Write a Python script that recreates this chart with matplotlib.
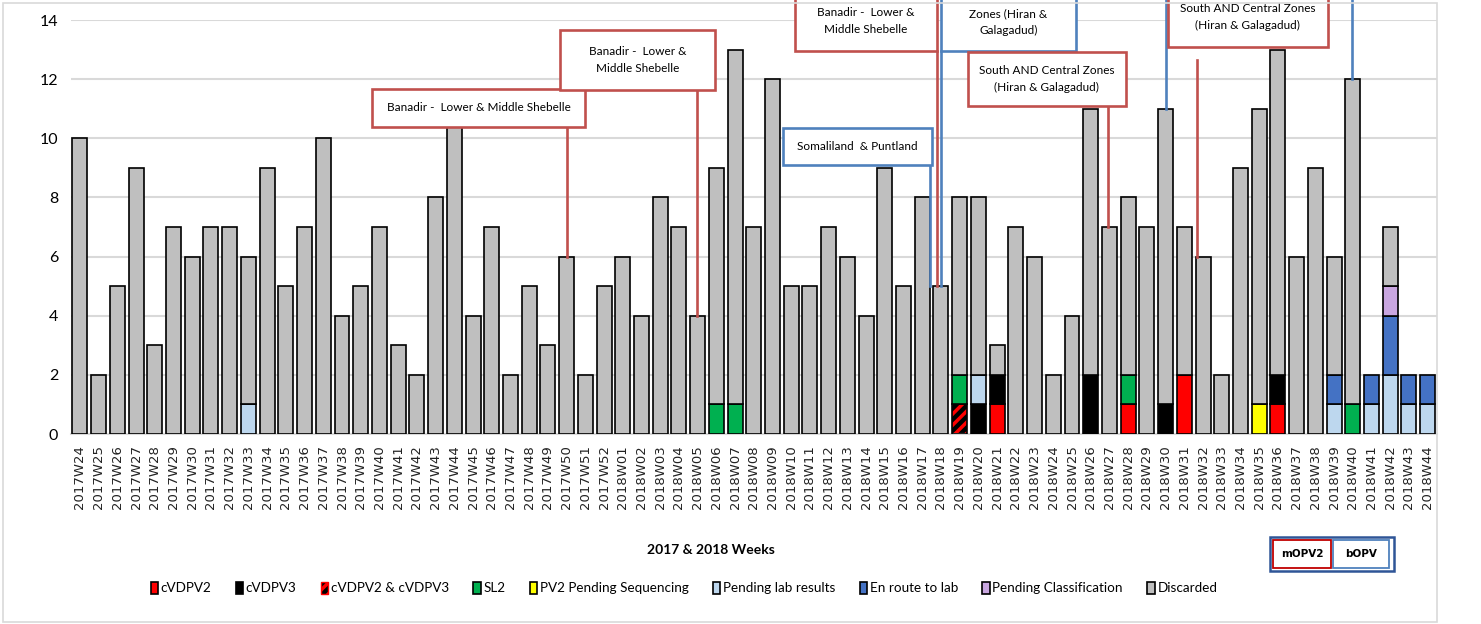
"""
Polio lab samples by epi week, 2017W24 - 2018W44 (stacked by classification)
"""

import numpy as np
import matplotlib
matplotlib.use("Agg")
import matplotlib.pyplot as plt
from matplotlib.patches import Patch, Rectangle

# -----------------------------------------------------------------------
# Data
# -----------------------------------------------------------------------

weeks = [f"2017W{w}" for w in range(24, 53)] + [f"2018W{w:02d}" for w in range(1, 45)]

discarded = [10, 2, 5, 9, 3, 7, 6, 7, 7, 5, 9, 5, 7, 10, 4, 5, 7, 3, 2, 8,
             11, 4, 7, 2, 5, 3, 6, 2, 5,
             6, 4, 8, 7, 4, 8, 12, 7, 12, 5, 5, 7, 6, 4, 9, 5, 8, 5, 6, 6,
             1, 7, 6, 2, 4, 9, 7, 6, 7, 10, 5, 6, 2, 9, 10, 11, 6, 9, 4, 11,
             0, 2, 0, 0]

cvdpv2 = {"2018W21": 1, "2018W28": 1, "2018W31": 2, "2018W36": 1}
cvdpv3 = {"2018W20": 1, "2018W21": 1, "2018W26": 2, "2018W30": 1, "2018W36": 1}
cvdpv2_3 = {"2018W19": 1}
sl2 = {"2018W06": 1, "2018W07": 1, "2018W19": 1, "2018W28": 1, "2018W40": 1}
pv2_pending = {"2018W35": 1}
pending_lab = {"2017W33": 1, "2018W20": 1, "2018W39": 1, "2018W41": 1,
               "2018W42": 2, "2018W43": 1, "2018W44": 1}
en_route = {"2018W39": 1, "2018W41": 1, "2018W42": 2, "2018W43": 1, "2018W44": 1}
pending_class = {"2018W42": 1}

labels = ["cVDPV2", "cVDPV3", "cVDPV2 & cVDPV3", "SL2", "PV2 Pending Sequencing",
          "Pending lab results", "En route to lab", "Pending Classification", "Discarded"]
colors = ["#FF0000", "#000000", "#000000", "#00B050", "#FFFF00",
          "#BDD7EE", "#4472C4", "#C9A6E0", "#BFBFBF"]

# annotation boxes (text, colour, box in data coords x0, x1, y0, y1)
ann_text = [
    "Banadir -  Lower & Middle Shebelle",
    "Banadir -  Lower &\nMiddle Shebelle",
    "Banadir -  Lower &\nMiddle Shebelle",
    "Zones (Hiran &\nGalagadud)",   # top line of this box is off the page
    "Somaliland  & Puntland",
    "South AND Central Zones\n(Hiran & Galagadud)",
    "South AND Central Zones\n(Hiran & Galagadud)",
]
ann_color = ["#C0504D", "#C0504D", "#C0504D", "#4F81BD", "#4F81BD", "#C0504D", "#C0504D"]
ann_box = [
    (15.6, 26.98, 10.38, 11.67),
    (25.64, 33.92, 11.63, 13.66),
    (38.19, 45.78, 12.95, 14.98),
    (46.0, 53.2, 12.95, 15.62),
    (37.55, 45.51, 9.10, 10.35),
    (47.44, 55.88, 11.09, 12.92),
    (58.12, 66.67, 13.09, 15.12),
]
# text centre height (None -> middle of box)
ann_ty = [None, None, None, 13.93, None, None, None]
# connectors: week, x offset, start height, colour
conn_week = ["2017W50", "2018W05", "2018W18", "2018W18", "2018W18",
             "2018W27", "2018W32", "2018W30", "2018W40"]
conn_dx = [0.0, -0.05, -0.22, 0.0, -0.6, -0.1, -0.33, 0.0, -0.05]
conn_y0 = [10.38, 11.63, 12.95, 12.95, 9.10, 11.09, 12.65, 16.0, 16.0]
conn_color = ["#C0504D", "#C0504D", "#C0504D", "#4F81BD", "#4F81BD",
              "#C0504D", "#C0504D", "#4F81BD", "#4F81BD"]

# -----------------------------------------------------------------------
# Plot
# -----------------------------------------------------------------------

W, H = 1481, 624
plt.rcParams["hatch.linewidth"] = 2.5
fig = plt.figure(figsize=(W / 100, H / 100), dpi=100)
ax = fig.add_axes([70.6 / W, 1 - 434 / H, (1437 - 70.6) / W, (434 - 20) / H])


def px(x):
    return x / W


def py(y):
    return 1 - y / H


x = np.arange(len(weeks))
series = [cvdpv2, cvdpv3, cvdpv2_3, sl2, pv2_pending, pending_lab, en_route, pending_class]
stack = [np.array([s.get(w, 0) for w in weeks], dtype=float) for s in series]
stack.append(np.array(discarded, dtype=float))

bottom = np.zeros(len(weeks))
for i, vals in enumerate(stack):
    m = vals > 0
    if i == 2:
        ax.bar(x[m], vals[m], 0.8, bottom=bottom[m], color="black", edgecolor="red",
               hatch="///", linewidth=0, zorder=2)
        ax.bar(x[m], vals[m], 0.8, bottom=bottom[m], fill=False, edgecolor="black",
               linewidth=1.2, zorder=3)
    else:
        ax.bar(x[m], vals[m], 0.8, bottom=bottom[m], color=colors[i], edgecolor="black",
               linewidth=1.2, zorder=3)
    bottom += vals
totals = bottom

ax.set_xlim(-0.5, len(weeks) - 0.5)
ax.set_ylim(0, 14)
ax.set_yticks(np.arange(0, 15, 2))
ax.set_xticks(x)
ax.set_xticklabels(weeks, rotation=90, fontsize=9.5, family="DejaVu Sans", color="#222222")
for t in ax.get_yticklabels():
    t.set_fontfamily("Lato")
    t.set_fontsize(11.5)
ax.tick_params(axis="both", length=0)
ax.tick_params(axis="x", pad=8)
ax.tick_params(axis="y", pad=9)
ax.grid(axis="y", color="#D9D9D9", linewidth=1.5, zorder=0)
ax.set_axisbelow(True)
for s in ["top", "right", "left"]:
    ax.spines[s].set_visible(False)
ax.spines["bottom"].set_color("#D9D9D9")
ax.spines["bottom"].set_linewidth(1.5)

# connectors
for wk, dx, y0, c in zip(conn_week, conn_dx, conn_y0, conn_color):
    i = weeks.index(wk)
    ax.plot([i + dx, i + dx], [y0, totals[i]], color=c, linewidth=1.9,
            clip_on=False, zorder=4)

# annotation boxes
for txt, c, (x0, x1, y0, y1), ty in zip(ann_text, ann_color, ann_box, ann_ty):
    ax.add_patch(Rectangle((x0, y0), x1 - x0, y1 - y0, facecolor="white", edgecolor=c,
                           linewidth=1.9, clip_on=False, zorder=5))
    ty = (y0 + y1) / 2 if ty is None else ty
    ax.text((x0 + x1) / 2, ty, txt, ha="center", va="center", fontsize=8.5,
            family="Lato", linespacing=1.6, clip_on=False, zorder=6)

# x label
fig.text(px(711), py(550), "2017 & 2018 Weeks", ha="center", va="center",
         fontsize=10, fontweight="bold", family="Lato")

# legend
handles = []
for i, (lab, c) in enumerate(zip(labels, colors)):
    if i == 2:
        handles.append(Patch(facecolor="black", edgecolor="red", hatch="///", linewidth=1))
    else:
        handles.append(Patch(facecolor=c, edgecolor="black", linewidth=1.2))
fig.legend(handles, labels, loc="center", bbox_to_anchor=(px(684), py(588)), ncol=9,
           frameon=False, handlelength=0.55, handleheight=1.0, handletextpad=0.2,
           columnspacing=1.8, prop={"family": "Lato", "size": 9.7})

# mOPV2 / bOPV key
fig.patches.append(Rectangle((px(1270), py(571)), px(1394) - px(1270), py(537) - py(571),
                             transform=fig.transFigure, facecolor="white",
                             edgecolor="#2F5597", linewidth=1.8))
fig.patches.append(Rectangle((px(1273), py(568)), px(1331) - px(1273), py(540) - py(568),
                             transform=fig.transFigure, facecolor="white",
                             edgecolor="#C00000", linewidth=1.3))
fig.patches.append(Rectangle((px(1333), py(568)), px(1389) - px(1333), py(540) - py(568),
                             transform=fig.transFigure, facecolor="white",
                             edgecolor="#4F81BD", linewidth=1.3))
fig.text(px(1302), py(554), "mOPV2", ha="center", va="center", fontsize=7.5,
         fontweight="bold", family="DejaVu Sans")
fig.text(px(1361), py(554), "bOPV", ha="center", va="center", fontsize=7.5,
         fontweight="bold", family="DejaVu Sans")

# chart frame
fig.patches.append(Rectangle((px(3), py(622)), px(1437) - px(3), py(3) - py(622),
                             transform=fig.transFigure, fill=False,
                             edgecolor="#D9D9D9", linewidth=1.2))

fig.savefig("out.png", dpi=100)
